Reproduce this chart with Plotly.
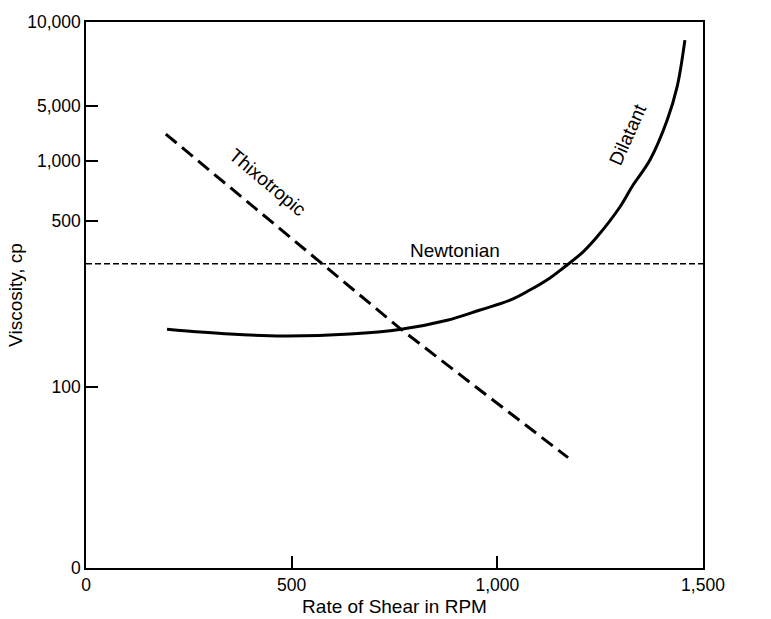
import numpy as np
import plotly.graph_objects as go

# ---- data ----
thixo_rpm = [194, 273, 450, 576, 766, 948, 1172]
thixo_cp = [2200, 1000, 500, 330, 175, 100, 61]

dilat_rpm = [197, 350, 479, 642, 766, 878, 958, 1031, 1079, 1128, 1160, 1208,
             1242, 1298, 1330, 1371, 1413, 1437, 1456]
dilat_cp = [175, 167, 164, 167, 175, 191, 211, 232, 256, 288, 317, 370,
            428, 588, 758, 1030, 3320, 5850, 8610]

newton_rpm = [0, 1500]
newton_cp = [330, 330]

y_tick_cp = [0, 100, 500, 1000, 5000, 10000]
y_tick_text = ["0", "100", "500", "1,000", "5,000", "10,000"]
x_tick_vals = [0, 500, 1000, 1500]
x_tick_text = ["0", "500", "1,000", "1,500"]

# ---- schematic (non-uniform) viscosity scale used by the original chart ----
SCALE_POS = [0.0, 0.3315, 0.6355, 0.7454, 0.8462, 1.0]  # axis position of each y tick


def yscale(v):
    v = np.asarray(v, dtype=float)
    out = np.empty_like(v)
    low = v <= 100
    out[low] = v[low] / 100.0 * SCALE_POS[1]
    logs = np.log10(np.array(y_tick_cp[1:], dtype=float))
    out[~low] = np.interp(np.log10(v[~low]), logs, SCALE_POS[1:])
    return out


font = "Liberation Sans, Arial, sans-serif"

fig = go.Figure()
fig.add_trace(go.Scatter(x=newton_rpm, y=yscale(newton_cp), mode="lines",
                         line=dict(color="black", width=1.5, dash="6px,3px"),
                         name="Newtonian"))
fig.add_trace(go.Scatter(x=thixo_rpm, y=yscale(thixo_cp), mode="lines",
                         line=dict(color="black", width=3, dash="14px,7px"),
                         name="Thixotropic"))
fig.add_trace(go.Scatter(x=dilat_rpm, y=yscale(dilat_cp), mode="lines",
                         line=dict(color="black", width=3, shape="spline", smoothing=1.0),
                         name="Dilatant"))

ann = dict(showarrow=False, font=dict(family=font, size=19, color="black"))
fig.add_annotation(x=442, y=float(yscale([780])[0]), text="Thixotropic", textangle=40, **ann)
fig.add_annotation(x=1318, y=float(yscale([2140])[0]), text="Dilatant", textangle=-66, **ann)
fig.add_annotation(x=897, y=float(yscale([375])[0]), text="Newtonian", **ann)

axis_common = dict(showgrid=False, zeroline=False, showline=True, linecolor="black",
                   linewidth=1.5, mirror=True, ticks="inside", ticklen=12,
                   tickwidth=1.5, tickcolor="black", automargin=False,
                   tickfont=dict(family=font, size=17.5, color="black"))

fig.update_xaxes(range=[0, 1500], tickvals=x_tick_vals, ticktext=x_tick_text,
                 title=dict(text="Rate of Shear in RPM", font=dict(family=font, size=19, color="black"),
                            standoff=6),
                 **axis_common)
fig.update_yaxes(range=[0, 1], tickvals=list(yscale(y_tick_cp)), ticktext=y_tick_text,
                 title=dict(text="Viscosity, cp", font=dict(family=font, size=19, color="black"),
                            standoff=0),
                 **axis_common)

fig.update_layout(width=771, height=619, plot_bgcolor="white", paper_bgcolor="white",
                  showlegend=False, margin=dict(l=86, r=68, t=22, b=51))

fig.write_html("out.html", config={"displayModeBar": False},
               post_script="document.body.style.margin='0';")
